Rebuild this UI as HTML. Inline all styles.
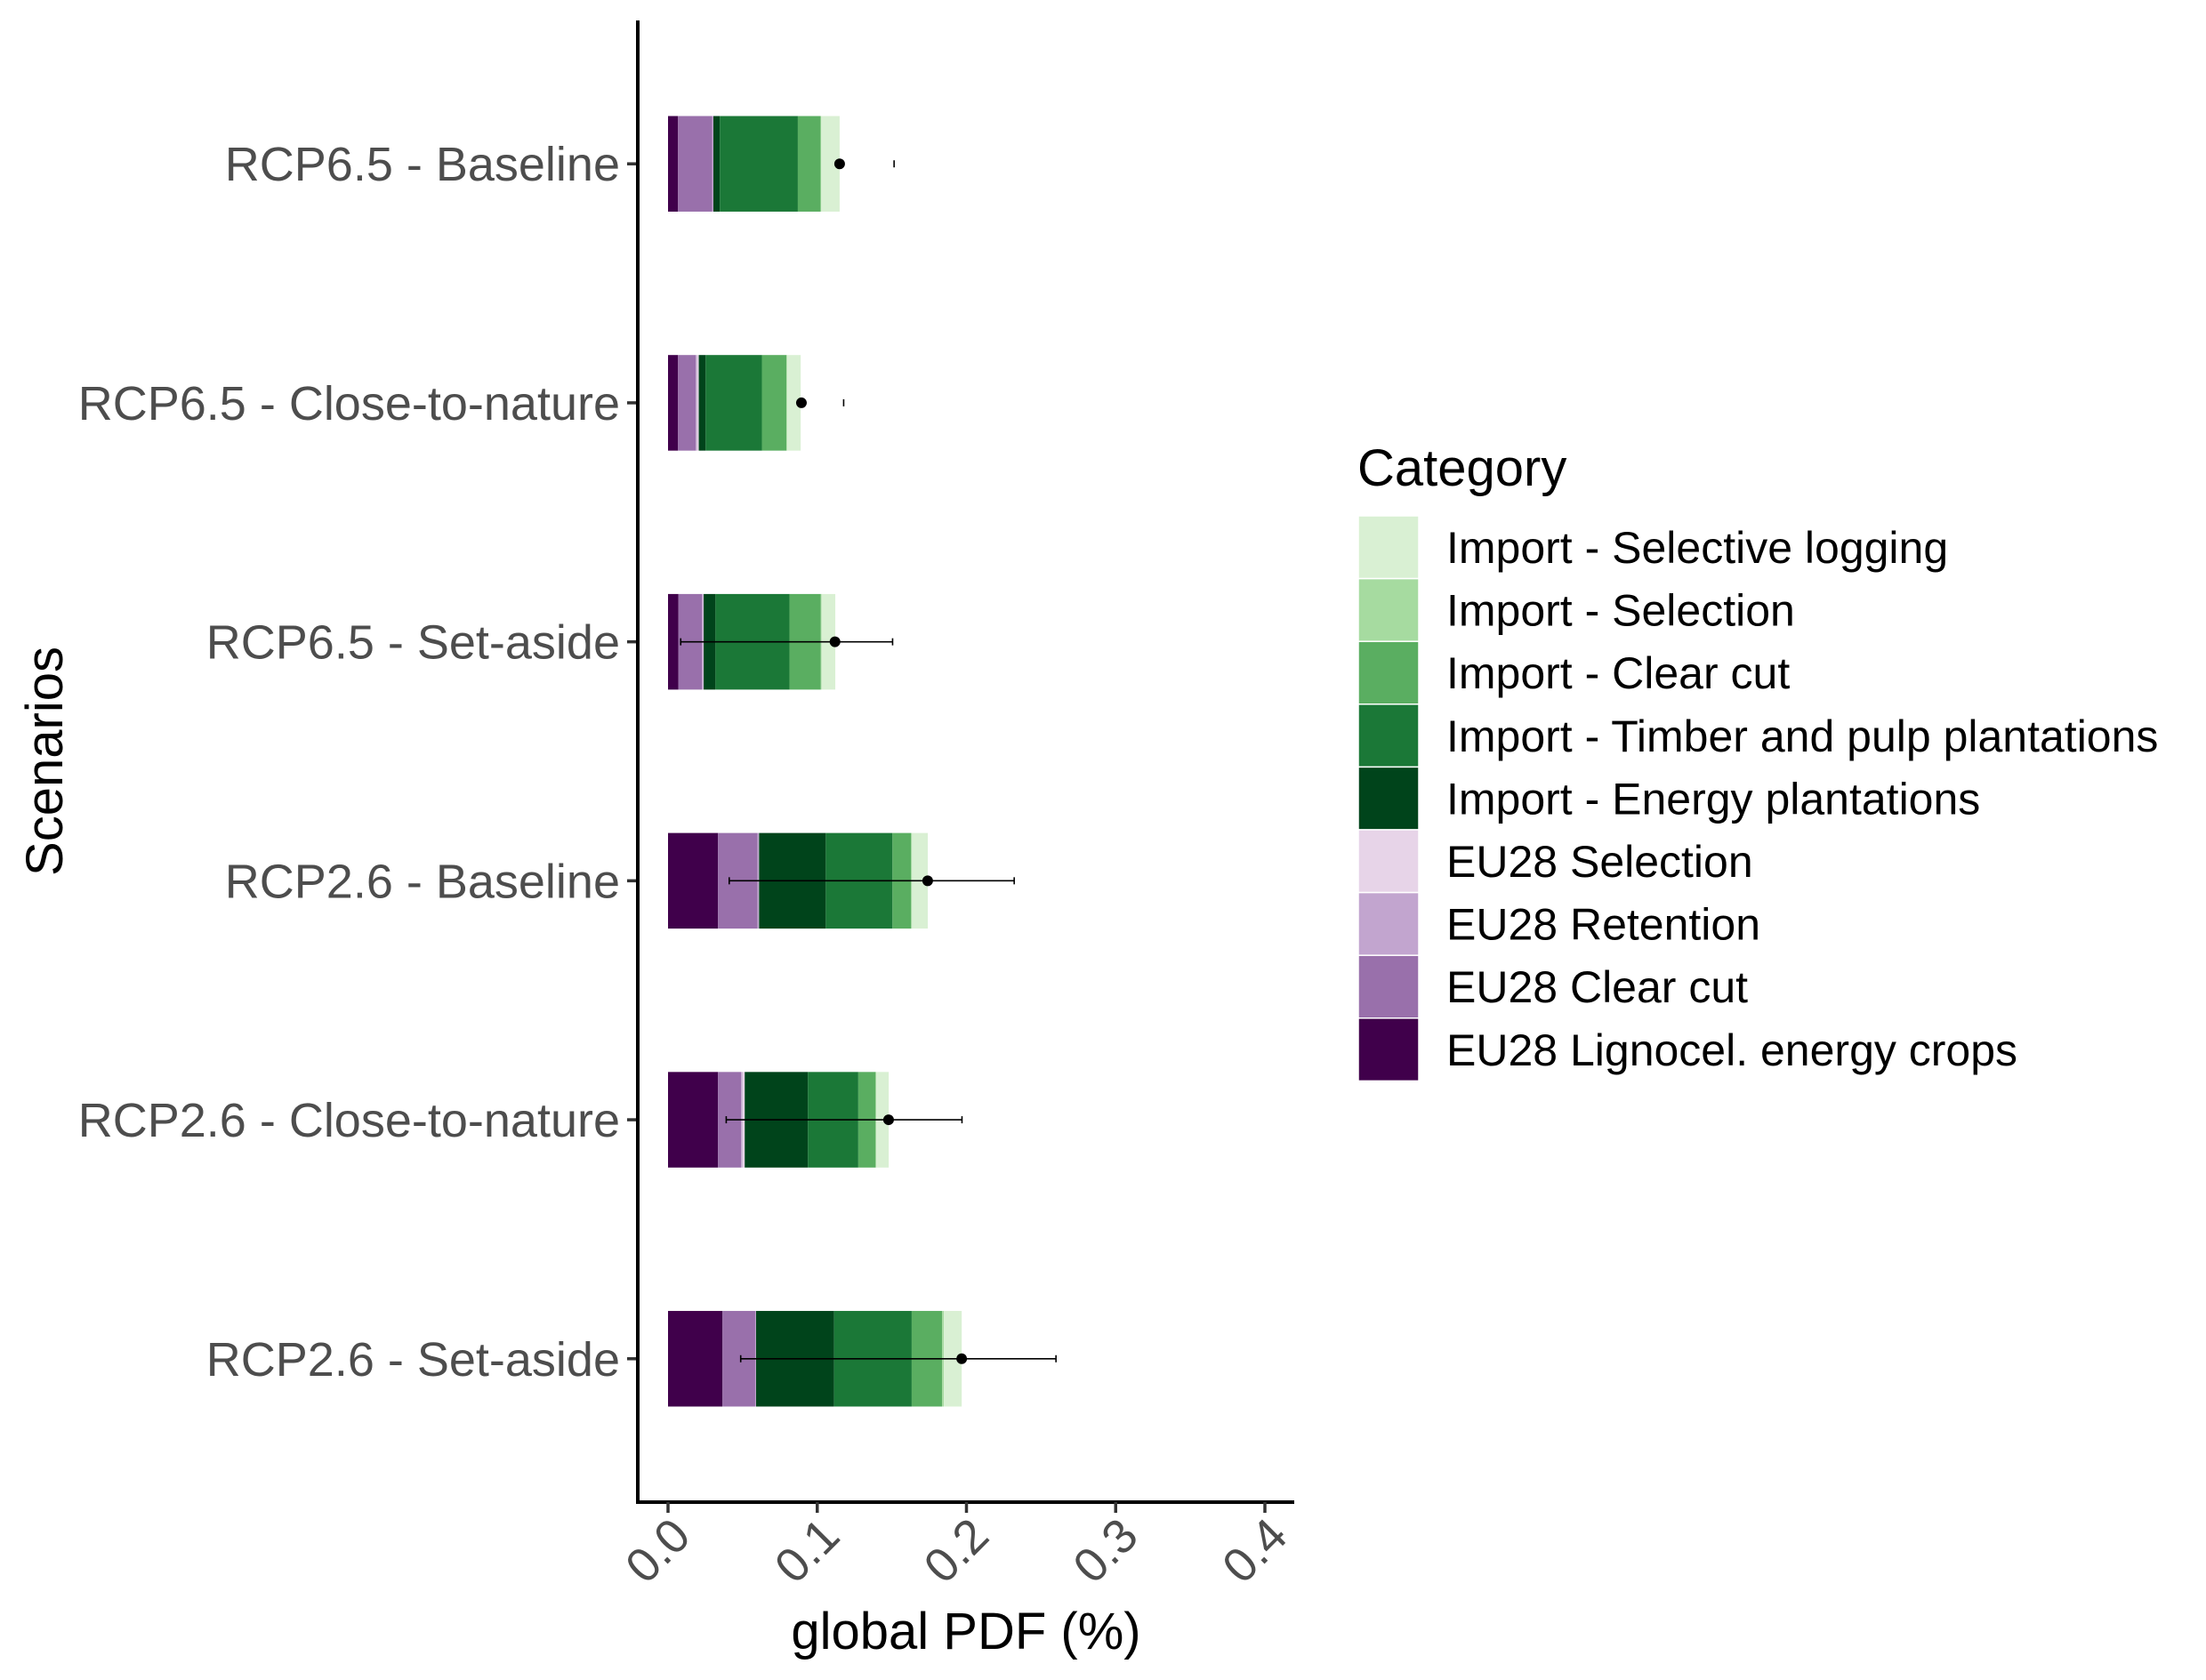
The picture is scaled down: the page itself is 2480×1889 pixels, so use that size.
<!DOCTYPE html>
<html><head><meta charset="utf-8"><style>
html,body{margin:0;padding:0;background:#fff;}
svg{display:block;font-family:"Liberation Sans",Arial,sans-serif;}
</style></head><body>
<svg id="chart" width="2480" height="1889" viewBox="0 0 2480 1889" xmlns="http://www.w3.org/2000/svg">
<rect x="0" y="0" width="2480" height="1889" fill="#fff"/>
<g id="bars"></g>
<g id="errs"></g>
<g id="axes"></g>
<text x="1086" y="1854" font-size="58" text-anchor="middle" fill="#000">global PDF (%)</text>
<text transform="translate(70,856) rotate(-90)" font-size="58" text-anchor="middle" fill="#000">Scenarios</text>
<g id="legend">
<text x="1526" y="546" font-size="58" fill="#000">Category</text>
</g>
</svg>
<script>
const scenarios = ["RCP6.5 - Baseline","RCP6.5 - Close-to-nature","RCP6.5 - Set-aside","RCP2.6 - Baseline","RCP2.6 - Close-to-nature","RCP2.6 - Set-aside"];
const categories = ["EU28 Lignocel. energy crops","EU28 Clear cut","EU28 Retention","EU28 Selection","Import - Energy plantations","Import - Timber and pulp plantations","Import - Clear cut","Import - Selection","Import - Selective logging"];
const colors = ["#40004b","#9970ab","#c2a5cf","#e7d4e8","#00441b","#1b7837","#5aae61","#a6dba0","#d9f0d3"];
const lignocel   = [0.0067,0.0067,0.0070,0.0335,0.0335,0.0365];
const euClearCut = [0.0228,0.0119,0.0158,0.0265,0.0155,0.0219];
const euRetention= [0.0009,0.0008,0.0009,0.0009,0.0009,0.0006];
const euSelection= [0.0000,0.0012,0.0002,0.0001,0.0015,0.0000];
const impEnergy  = [0.0043,0.0046,0.0079,0.0447,0.0423,0.0523];
const impTimber  = [0.0523,0.0377,0.0496,0.0447,0.0338,0.0520];
const impClearCut= [0.0152,0.0164,0.0210,0.0125,0.0116,0.0204];
const impSelection=[0.0005,0.0005,0.0005,0.0006,0.0005,0.0012];
const impSelLog  = [0.0123,0.0091,0.0092,0.0106,0.0083,0.0119];
const means   = [0.115,0.0894,0.1119,0.174,0.1478,0.1968];
const errLow  = [null,null,0.0085,0.041,0.039,0.0487];
const errHigh = [0.1515,0.1177,0.1505,0.232,0.197,0.26];
const xTicks = [0.0,0.1,0.2,0.3,0.4];
const xTickLabels = ["0.0","0.1","0.2","0.3","0.4"];
const series = [lignocel,euClearCut,euRetention,euSelection,impEnergy,impTimber,impClearCut,impSelection,impSelLog];

const NS="http://www.w3.org/2000/svg";
const X0=751, PX=1677.5;
const xScale=v=>X0+v*PX;
const yTop=23, yBot=1689, step=(yBot-yTop)/(scenarios.length-1+1.2);
const yScale=i=>yTop+step*(0.6+i);
const barH=step*0.4;
function mk(tag,attrs,parent){const e=document.createElementNS(NS,tag);for(const k in attrs)e.setAttribute(k,attrs[k]);parent.appendChild(e);return e;}
const gBars=document.getElementById('bars'), gErr=document.getElementById('errs'), gAx=document.getElementById('axes'), gLeg=document.getElementById('legend');

scenarios.forEach((s,i)=>{
  let acc=0;
  const cy=yScale(i);
  series.forEach((arr,k)=>{
    const v=arr[i];
    if(v>0){
      const r=mk('rect',{x:xScale(acc),y:cy-barH/2,width:xScale(acc+v)-xScale(acc),height:barH,fill:colors[k]},gBars);
      
      
    }
    acc+=v;
  });
  const lo=errLow[i], hi=errHigh[i];
  if(lo!==null){
    const l=mk('line',{x1:xScale(lo),x2:xScale(hi),y1:cy,y2:cy,stroke:'#000','stroke-width':1.6},gErr);
    
    
    const c1=mk('line',{x1:xScale(lo),x2:xScale(lo),y1:cy-4,y2:cy+4,stroke:'#000','stroke-width':1.6},gErr);
    
    
  }
  const c2=mk('line',{x1:xScale(hi),x2:xScale(hi),y1:cy-4,y2:cy+4,stroke:'#000','stroke-width':1.6},gErr);
  
  
  const p=mk('circle',{cx:xScale(means[i]),cy:cy,r:6,fill:'#000'},gErr);
  
  
  const tk=mk('line',{x1:705,x2:717,y1:cy,y2:cy,stroke:'#333','stroke-width':3.5},gAx);
  
  
  const t=mk('text',{x:697,y:cy+19,'font-size':54,'text-anchor':'end',fill:'#4d4d4d'},gAx);
  t.textContent=s;
  
  
});
const ya=mk('line',{x1:717,x2:717,y1:yTop,y2:yBot+2,stroke:'#000','stroke-width':4},gAx);


const xa=mk('line',{x1:715,x2:1455,y1:yBot,y2:yBot,stroke:'#000','stroke-width':4},gAx);


xTicks.forEach((v,j)=>{
  const x=xScale(v);
  const tk=mk('line',{x1:x,x2:x,y1:yBot,y2:yBot+12,stroke:'#333','stroke-width':3.5},gAx);
  
  
  const t=mk('text',{transform:`translate(${x+28},${1730}) rotate(-45)`,'font-size':54,'text-anchor':'end',fill:'#4d4d4d'},gAx);
  t.textContent=xTickLabels[j];
  
  
});
const legOrder=[8,7,6,5,4,3,2,1,0];
legOrder.forEach((k,j)=>{
  const y=580+j*70.6;
  const r=mk('rect',{x:1527,y:y,width:68,height:70.6,fill:colors[k],stroke:'#fff','stroke-width':1.5},gLeg);
  
  
  const t=mk('text',{x:1626,y:y+53,'font-size':50,fill:'#000'},gLeg);
  t.textContent=categories[k];
  
  
});
</script>
</body></html>
